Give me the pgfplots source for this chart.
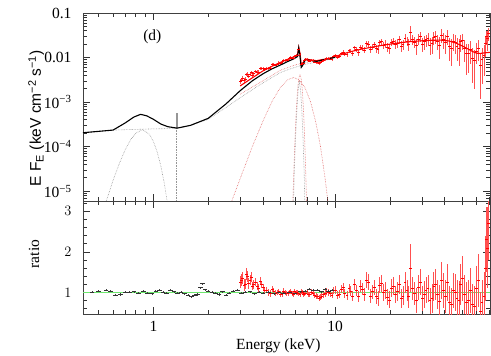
\documentclass[border=0pt]{standalone}
\usepackage{fontspec}
\setmainfont{Liberation Serif}
\newfontfamily\helv{Liberation Sans}
\usepackage{pgfplots}
\usepackage{pgfplotstable}
\pgfplotsset{compat=1.18}

\definecolor{pinkerr}{RGB}{255,80,80}
\definecolor{ratiogreen}{RGB}{110,230,110}
\definecolor{compgray}{RGB}{150,150,150}
\definecolor{compred}{RGB}{225,105,105}

% red (hard X-ray) spectrum: energy, E F_E, lower and upper ends of the error bar
\pgfplotstableread{
E f ef
3.0 2.88e-3 3.5e-4
3.05 3.12e-3 3.6e-4
3.1 3.38e-3 3.8e-4
3.15 3.09e-3 3.7e-4
3.2 3.30e-3 3.3e-4
3.25 4.18e-3 4.0e-4
3.3 4.20e-3 4.2e-4
3.35 3.81e-3 4.1e-4
3.4 4.23e-3 3.9e-4
3.45 4.66e-3 4.4e-4
3.5 4.03e-3 3.5e-4
3.57 4.44e-3 4.1e-4
3.65 4.88e-3 3.9e-4
3.72 4.72e-3 4.1e-4
3.8 4.73e-3 4.3e-4
3.87 5.76e-3 4.5e-4
3.95 5.70e-3 4.3e-4
4.02 5.66e-3 4.5e-4
4.1 5.46e-3 4.2e-4
4.2 5.78e-3 4.4e-4
4.3 5.70e-3 4.6e-4
4.4 5.87e-3 4.8e-4
4.5 6.91e-3 5.1e-4
4.6 6.97e-3 4.7e-4
4.7 6.81e-3 4.9e-4
4.8 7.20e-3 5.0e-4
4.9 7.65e-3 5.3e-4
5.0 7.49e-3 5.5e-4
5.1 7.70e-3 5.7e-4
5.2 8.60e-3 5.8e-4
5.3 8.60e-3 6.0e-4
5.4 8.72e-3 5.3e-4
5.5 8.92e-3 5.5e-4
5.6 9.60e-3 5.7e-4
5.7 1.01e-2 5.9e-4
5.8 9.70e-3 6.0e-4
5.9 9.89e-3 6.2e-4
6.0 1.09e-2 6.4e-4
6.1 1.12e-2 6.7e-4
6.2 1.14e-2 6.9e-4
6.3 1.52e-2 9.3e-4
6.4 1.20e-2 7.5e-4
6.5 7.14e-3 4.2e-4
6.6 7.37e-3 4.4e-4
6.7 7.60e-3 4.8e-4
6.8 8.63e-3 5.3e-4
6.9 9.10e-3 5.5e-4
7.0 9.38e-3 5.5e-4
7.1 8.64e-3 5.4e-4
7.25 8.46e-3 6.2e-4
7.4 8.89e-3 6.2e-4
7.55 8.62e-3 6.2e-4
7.7 8.00e-3 6.0e-4
7.85 7.74e-3 6.0e-4
8.0 7.74e-3 6.0e-4
8.15 7.57e-3 6.1e-4
8.3 7.74e-3 6.2e-4
8.45 8.19e-3 6.2e-4
8.6 8.55e-3 7.2e-4
8.8 8.97e-3 7.3e-4
9.0 9.49e-3 7.4e-4
9.2 9.50e-3 7.6e-4
9.4 9.41e-3 7.8e-4
9.6 9.31e-3 7.9e-4
9.8 1.06e-2 9.1e-4
10.05 1.11e-2 9.5e-4
10.3 1.02e-2 1.08e-3
10.55 1.08e-2 1.12e-3
10.8 1.24e-2 1.15e-3
11.05 1.32e-2 1.3e-3
11.3 1.19e-2 1.33e-3
11.6 1.16e-2 1.38e-3
11.9 1.43e-2 1.56e-3
12.2 1.40e-2 1.62e-3
12.5 1.26e-2 1.64e-3
12.8 1.68e-2 1.82e-3
13.1 1.50e-2 2.0e-3
13.45 1.31e-2 2.0e-3
13.8 1.73e-2 2.25e-3
14.15 1.65e-2 2.3e-3
14.5 1.49e-2 2.5e-3
14.85 2.08e-2 3.2e-3
15.2 2.04e-2 3.3e-3
15.6 1.54e-2 2.8e-3
16.0 1.75e-2 2.9e-3
16.4 1.96e-2 3.2e-3
16.8 1.60e-2 3.2e-3
17.2 1.54e-2 3.3e-3
17.6 2.17e-2 3.7e-3
18.05 2.28e-2 3.7e-3
18.5 1.90e-2 3.8e-3
18.95 2.03e-2 3.9e-3
19.4 1.72e-2 3.9e-3
19.9 1.63e-2 4.2e-3
20.4 2.22e-2 4.4e-3
20.9 2.36e-2 4.5e-3
21.4 1.98e-2 4.6e-3
21.95 2.14e-2 4.8e-3
22.5 2.56e-2 5.1e-3
23.05 1.83e-2 5.2e-3
23.6 2.01e-2 5.2e-3
24.2 2.75e-2 5.7e-3
24.8 2.34e-2 5.6e-3
25.4 2.03e-2 6.1e-3
26.0 3.65e-2 1.37e-2
26.65 2.53e-2 6.4e-3
27.3 2.26e-2 6.5e-3
28.0 1.86e-2 7.0e-3
28.7 2.63e-2 7.1e-3
29.4 2.95e-2 7.6e-3
30.1 2.02e-2 7.1e-3
30.85 2.27e-2 7.6e-3
31.6 2.52e-2 7.7e-3
32.4 2.66e-2 8.2e-3
33.2 1.94e-2 7.8e-3
34.05 2.07e-2 8.5e-3
34.9 2.82e-2 8.6e-3
35.75 2.94e-2 9.3e-3
36.6 2.34e-2 8.6e-3
37.55 1.92e-2 9.8e-3
38.5 3.20e-2 1.11e-2
39.45 2.56e-2 1.02e-2
40.4 2.18e-2 9.7e-3
41.4 2.99e-2 1.08e-2
42.4 1.77e-2 9.4e-3
43.45 1.62e-2 9.7e-3
44.5 2.36e-2 9.5e-3
45.65 2.17e-2 9.8e-3
46.8 1.79e-2 9.5e-3
47.95 1.61e-2 9.6e-3
49.1 2.30e-2 9.6e-3
50.35 2.46e-2 1.0e-2
51.6 1.63e-2 8.3e-3
52.9 1.22e-2 8.2e-3
54.2 1.23e-2 7.7e-3
55.55 1.52e-2 8.0e-3
56.9 9.6e-3 6.9e-3
58.3 8.5e-3 6.5e-3
59.7 1.39e-2 6.9e-3
61.2 1.63e-2 8.1e-3
62.7 6.8e-3 5.6e-3
64.2 9.4e-3 6.9e-3
65.8 1.14e-2 7.6e-3
66.9 2.05e-2 1.02e-2
68.0 2.97e-2 1.03e-2
69.0 2.73e-2 1.3e-2
70.0 3.54e-2 1.18e-2
}\reddata

% red ratio: energy, data/model, error
\pgfplotstableread{
E r er
3.0 1.25 0.15
3.05 1.30 0.15
3.1 1.35 0.15
3.15 1.18 0.14
3.2 1.20 0.12
3.25 1.45 0.14
3.3 1.40 0.14
3.35 1.22 0.13
3.4 1.30 0.12
3.45 1.38 0.13
3.5 1.15 0.10
3.57 1.20 0.11
3.65 1.25 0.10
3.72 1.15 0.10
3.8 1.10 0.10
3.87 1.28 0.10
3.95 1.20 0.09
4.02 1.12 0.09
4.1 1.05 0.08
4.2 1.06 0.08
4.3 1.00 0.08
4.4 0.97 0.08
4.5 1.08 0.08
4.6 1.04 0.07
4.7 0.98 0.07
4.8 1.00 0.07
4.9 1.02 0.07
5.0 0.96 0.07
5.1 0.95 0.07
5.2 1.03 0.07
5.3 1.00 0.07
5.4 0.98 0.06
5.5 0.97 0.06
5.6 1.01 0.06
5.7 1.03 0.06
5.8 0.97 0.06
5.9 0.96 0.06
6.0 1.02 0.06
6.1 1.00 0.06
6.2 0.99 0.06
6.3 0.98 0.06
6.4 0.96 0.06
6.5 1.02 0.06
6.6 1.01 0.06
6.7 0.95 0.06
6.8 0.97 0.06
6.9 0.99 0.06
7.0 1.02 0.06
7.1 0.96 0.06
7.25 0.95 0.07
7.4 1.01 0.07
7.55 0.98 0.07
7.7 0.93 0.07
7.85 0.91 0.07
8.0 0.90 0.07
8.15 0.87 0.07
8.3 0.88 0.07
8.45 0.92 0.07
8.6 0.95 0.08
8.8 0.98 0.08
9.0 1.02 0.08
9.2 1.00 0.08
9.4 0.97 0.08
9.6 0.94 0.08
9.8 1.05 0.09
10.05 1.06 0.09
10.3 0.94 0.10
10.55 0.96 0.10
10.8 1.08 0.10
11.05 1.12 0.11
11.3 0.98 0.11
11.6 0.93 0.11
11.9 1.10 0.12
12.2 1.04 0.12
12.5 0.92 0.12
12.8 1.20 0.13
13.1 1.05 0.14
13.45 0.90 0.14
13.8 1.15 0.15
14.15 1.08 0.15
14.5 0.95 0.16
14.85 1.30 0.20
15.2 1.25 0.20
15.6 0.92 0.17
16.0 1.02 0.17
16.4 1.12 0.18
16.8 0.90 0.18
17.2 0.85 0.18
17.6 1.18 0.20
18.05 1.22 0.20
18.5 1.00 0.20
18.95 1.05 0.20
19.4 0.88 0.20
19.9 0.82 0.21
20.4 1.10 0.22
20.9 1.15 0.22
21.4 0.95 0.22
21.95 1.02 0.23
22.5 1.20 0.24
23.05 0.85 0.24
23.6 0.92 0.24
24.2 1.25 0.26
24.8 1.05 0.25
25.4 0.90 0.27
26.0 1.60 0.60
26.65 1.10 0.28
27.3 0.98 0.28
28.0 0.80 0.30
28.7 1.12 0.30
29.4 1.25 0.32
30.1 0.85 0.30
30.85 0.95 0.32
31.6 1.05 0.32
32.4 1.10 0.34
33.2 0.80 0.32
34.05 0.85 0.35
34.9 1.15 0.35
35.75 1.20 0.38
36.6 0.95 0.35
37.55 0.78 0.40
38.5 1.30 0.45
39.45 1.05 0.42
40.4 0.90 0.40
41.4 1.25 0.45
42.4 0.75 0.40
43.45 0.70 0.42
44.5 1.05 0.42
45.65 1.00 0.45
46.8 0.85 0.45
47.95 0.80 0.48
49.1 1.20 0.50
50.35 1.35 0.55
51.6 0.95 0.48
52.9 0.75 0.50
54.2 0.80 0.50
55.55 1.05 0.55
56.9 0.70 0.50
58.3 0.65 0.50
59.7 1.10 0.55
61.2 1.30 0.65
62.7 0.55 0.45
64.2 0.75 0.55
65.8 0.90 0.60
66.9 1.60 0.80
68.0 2.30 0.80
69.0 2.10 1.00
70.0 2.70 0.90
}\redratio

\begin{document}
\begin{tikzpicture}
\begin{axis}[name=upper, at={(0,0)}, anchor=north west,
  xmode=log, ymode=log, xmin=0.41, xmax=71, ymin=6e-6, ymax=0.1,
  scale only axis, width=407bp, height=188bp,
  xtick={1,10}, xticklabels={},
  minor xtick={0.5,0.6,0.7,0.8,0.9,2,3,4,5,6,7,8,9,20,30,40,50,60,70},
  ytick={1e-5,1e-4,1e-3,0.01,0.1},
  yticklabels={10\textsuperscript{−5},10\textsuperscript{−4},10\textsuperscript{−3},0.01,0.1},
  minor ytick={6e-6,7e-6,8e-6,9e-6,2e-5,3e-5,4e-5,5e-5,6e-5,7e-5,8e-5,9e-5,
    2e-4,3e-4,4e-4,5e-4,6e-4,7e-4,8e-4,9e-4,2e-3,3e-3,4e-3,5e-3,6e-3,7e-3,8e-3,9e-3,
    0.02,0.03,0.04,0.05,0.06,0.07,0.08,0.09},
  major tick length=7bp, minor tick length=4bp,
  tick style={black!80, line width=0.6pt},
  axis line style={black!75, line width=0.7pt},
  tick label style={font=\fontsize{15.5bp}{17bp}\selectfont},
  label style={font=\fontsize{15.5bp}{17bp}\selectfont},
  yticklabel style={xshift=-8bp},
  ylabel={\helv E F\textsubscript{E} (keV cm\textsuperscript{−2} s\textsuperscript{−1})},
  ylabel style={at={(axis description cs:-0.115,0.44)}, anchor=center},
]
% soft gaussian component
\addplot[compgray, densely dotted, line width=0.6pt] coordinates {
(0.53,3.8e-6) (0.55,6e-6) (0.6,1.74e-5) (0.65,4.2e-5) (0.7,8.5e-5) (0.75,1.43e-4)
(0.8,2.0e-4) (0.87,2.4e-4) (0.95,1.9e-4) (1.0,1.3e-4) (1.05,7.5e-5) (1.1,3.6e-5)
(1.15,1.44e-5) (1.2,4.8e-6)};
% continuum (black model)
\addplot[compgray, densely dotted, line width=0.6pt] coordinates {
(0.41,2.05e-4) (0.6,2.35e-4) (1.0,2.5e-4) (1.35,2.55e-4) (1.6,3.0e-4) (2.0,4.1e-4)
(2.5,7.5e-4) (3.0,1.25e-3) (3.7,2.2e-3) (4.4,3.4e-3) (5.0,4.6e-3) (5.6,5.5e-3)
(6.15,6.2e-3) (6.8,7.0e-3) (7.5,7.6e-3) (8.5,8.4e-3) (9.5,9.3e-3) (10,9.8e-3)};
% continuum (red model)
\addplot[compred, densely dotted, line width=0.6pt] coordinates {
(3.0,1.5e-3) (4.0,3.0e-3) (5.0,5.2e-3) (6.15,7.0e-3) (7.0,7.9e-3) (8.0,8.6e-3)
(9.0,9.3e-3) (10,1.02e-2)};
% broad iron component
\addplot[compred, densely dotted, line width=0.6pt] coordinates {
(2.7,6.1e-6) (3.0,1.9e-5) (3.5,1.0e-4) (4.0,3.7e-4) (4.5,1.05e-3) (5.0,2.14e-3)
(5.5,3.2e-3) (5.9,3.55e-3) (6.3,3.2e-3) (6.8,2.14e-3) (7.3,1.05e-3) (7.8,3.7e-4)
(8.3,1.0e-4) (8.8,1.9e-5) (9.1,6.1e-6)};
% narrow iron lines
\addplot[compred, densely dotted, line width=0.6pt] coordinates {
(5.85,6e-6) (5.9,1.86e-5) (6.0,1.3e-4) (6.1,5.9e-4) (6.2,1.75e-3) (6.3,3.36e-3)
(6.4,4.2e-3) (6.5,3.36e-3) (6.6,1.75e-3) (6.7,5.9e-4) (6.8,1.3e-4) (6.9,1.86e-5)
(6.95,6e-6)};
\addplot[compgray, densely dotted, line width=0.6pt] coordinates {
(5.9,6e-6) (5.95,2.5e-5) (6.05,1.6e-4) (6.15,6.5e-4) (6.25,1.8e-3) (6.35,3.0e-3)
(6.45,1.8e-3) (6.55,6.5e-4) (6.65,1.6e-4) (6.75,2.5e-5) (6.8,6e-6)};
% line at 1.34 keV
\addplot[compgray, densely dotted, line width=0.6pt] coordinates {(1.34,2.6e-4) (1.34,5e-6)};
\addplot[compgray, line width=2pt] coordinates {(1.34,2.6e-4) (1.34,5.6e-4)};
% red data
\addplot[pinkerr, only marks, mark=-, mark size=1.4pt, mark options={draw=red},
  error bars/.cd, y dir=both, y explicit, error mark=none,
  error bar style={draw=pinkerr, line width=0.9pt}]
  table[x=E, y=f, y error=ef] {\reddata};
% red model
\addplot[red, line width=1.1pt] coordinates {
(3.0,2.3e-3) (3.5,3.5e-3) (4.0,5.0e-3) (4.5,6.4e-3) (5.0,7.8e-3) (5.5,9.2e-3)
(5.9,1.03e-2) (6.2,1.15e-2) (6.3,1.7e-2) (6.4,1.25e-2) (6.5,7.0e-3) (6.65,7.5e-3)
(6.85,9.3e-3) (7.3,8.9e-3) (7.9,8.5e-3) (8.5,9.0e-3) (9.4,9.7e-3) (10.5,1.12e-2)
(12,1.34e-2) (14,1.55e-2) (16,1.72e-2) (18.4,1.9e-2) (22,2.12e-2) (26,2.28e-2)
(30,2.38e-2) (34,2.44e-2) (38,2.46e-2) (42,2.36e-2) (46,2.12e-2) (50,1.82e-2)
(54,1.54e-2) (57,1.36e-2) (60,1.25e-2) (63,1.24e-2) (67,1.28e-2) (71,1.31e-2)};
% black model
\addplot[black, line width=1.1pt] coordinates {
(0.41,2.05e-4) (0.5,2.2e-4) (0.6,2.35e-4) (0.7,3.4e-4) (0.78,4.6e-4) (0.85,5.3e-4)
(0.92,4.9e-4) (1.0,4.1e-4) (1.1,3.2e-4) (1.2,2.8e-4) (1.35,2.6e-4) (1.6,3.0e-4)
(2.0,4.3e-4) (2.5,9.0e-4) (3.0,1.8e-3) (3.5,3.0e-3) (4.0,4.3e-3) (4.5,5.6e-3)
(5.0,6.8e-3) (5.5,8.2e-3) (5.9,9.3e-3) (6.2,1.05e-2) (6.3,1.65e-2) (6.38,1.2e-2)
(6.5,6.0e-3) (6.6,6.5e-3) (6.85,9.0e-3) (7.3,8.6e-3) (7.9,8.2e-3) (8.5,8.8e-3)
(9.4,9.6e-3) (10,1.01e-2)};
\node[font=\fontsize{15.5bp}{17bp}\selectfont] at (axis cs:0.987,0.0297) {(d)};
\end{axis}

\begin{axis}[at={(upper.south west)}, anchor=north west,
  xmode=log, xmin=0.41, xmax=71, ymin=0.47, ymax=3.25,
  scale only axis, width=407bp, height=113bp,
  xtick={1,10}, xticklabels={1,10},
  minor xtick={0.5,0.6,0.7,0.8,0.9,2,3,4,5,6,7,8,9,20,30,40,50,60,70},
  ytick={1,2,3},
  minor ytick={0.6,0.8,1.2,1.4,1.6,1.8,2.2,2.4,2.6,2.8,3.2},
  major tick length=7bp, minor tick length=4bp,
  tick style={black!80, line width=0.6pt},
  axis line style={black!75, line width=0.7pt},
  tick label style={font=\fontsize{15.5bp}{17bp}\selectfont},
  label style={font=\fontsize{15.5bp}{17bp}\selectfont},
  yticklabel style={xshift=-8bp},
  xticklabel style={yshift=-4bp},
  xlabel={Energy (keV)},
  xlabel style={at={(axis description cs:0.48,0)}, anchor=north, yshift=-21bp},
  ylabel={ratio},
  ylabel style={at={(axis description cs:-0.12,0.53)}, anchor=center},
]
\addplot[ratiogreen, line width=1.1pt] coordinates {(0.41,1) (71,1)};
\addplot[pinkerr, only marks, mark=-, mark size=1.4pt, mark options={draw=red},
  error bars/.cd, y dir=both, y explicit, error mark=none,
  error bar style={draw=pinkerr, line width=0.9pt}]
  table[x=E, y=r, y error=er] {\redratio};
\addplot[black!80, only marks, mark=-, mark size=2.2pt,
  error bars/.cd, y dir=both, y fixed=0.025,
  error mark=none, error bar style={draw=black!75, line width=0.5pt}]
  coordinates {
(0.46,1.00) (0.50,1.03) (0.55,1.05) (0.58,1.04) (0.62,0.93) (0.66,0.95) (0.70,1.00)
(0.74,1.01) (0.78,1.02) (0.83,0.98) (0.88,1.03) (0.93,0.99) (0.98,0.97) (1.03,1.03)
(1.08,1.06) (1.13,1.00) (1.18,0.98) (1.24,1.05) (1.30,1.02) (1.36,0.99) (1.42,1.00)
(1.48,0.97) (1.55,0.93) (1.62,0.90) (1.68,0.93) (1.75,0.95) (1.82,1.12) (1.86,1.22)
(1.92,1.07) (2.0,1.03) (2.1,1.00) (2.2,0.98) (2.3,0.95) (2.4,1.02) (2.5,0.94)
(2.6,0.99) (2.75,1.03) (2.9,1.05) (3.05,0.99) (3.2,1.00) (3.4,1.02) (3.6,0.97)
(3.8,1.00) (4.0,0.98) (4.3,1.01) (4.6,0.97) (4.9,1.00) (5.2,0.99) (5.6,1.01)
(6.0,0.98) (6.4,1.02) (6.8,1.03) (7.2,1.08) (7.6,1.05) (8.0,1.06) (8.4,1.02)
(8.8,1.08) (9.2,1.04) (9.6,1.05)};
\end{axis}
\pgfresetboundingbox
\path[use as bounding box] (-83bp,13bp) rectangle (408bp,-343bp);
\end{tikzpicture}
\end{document}
